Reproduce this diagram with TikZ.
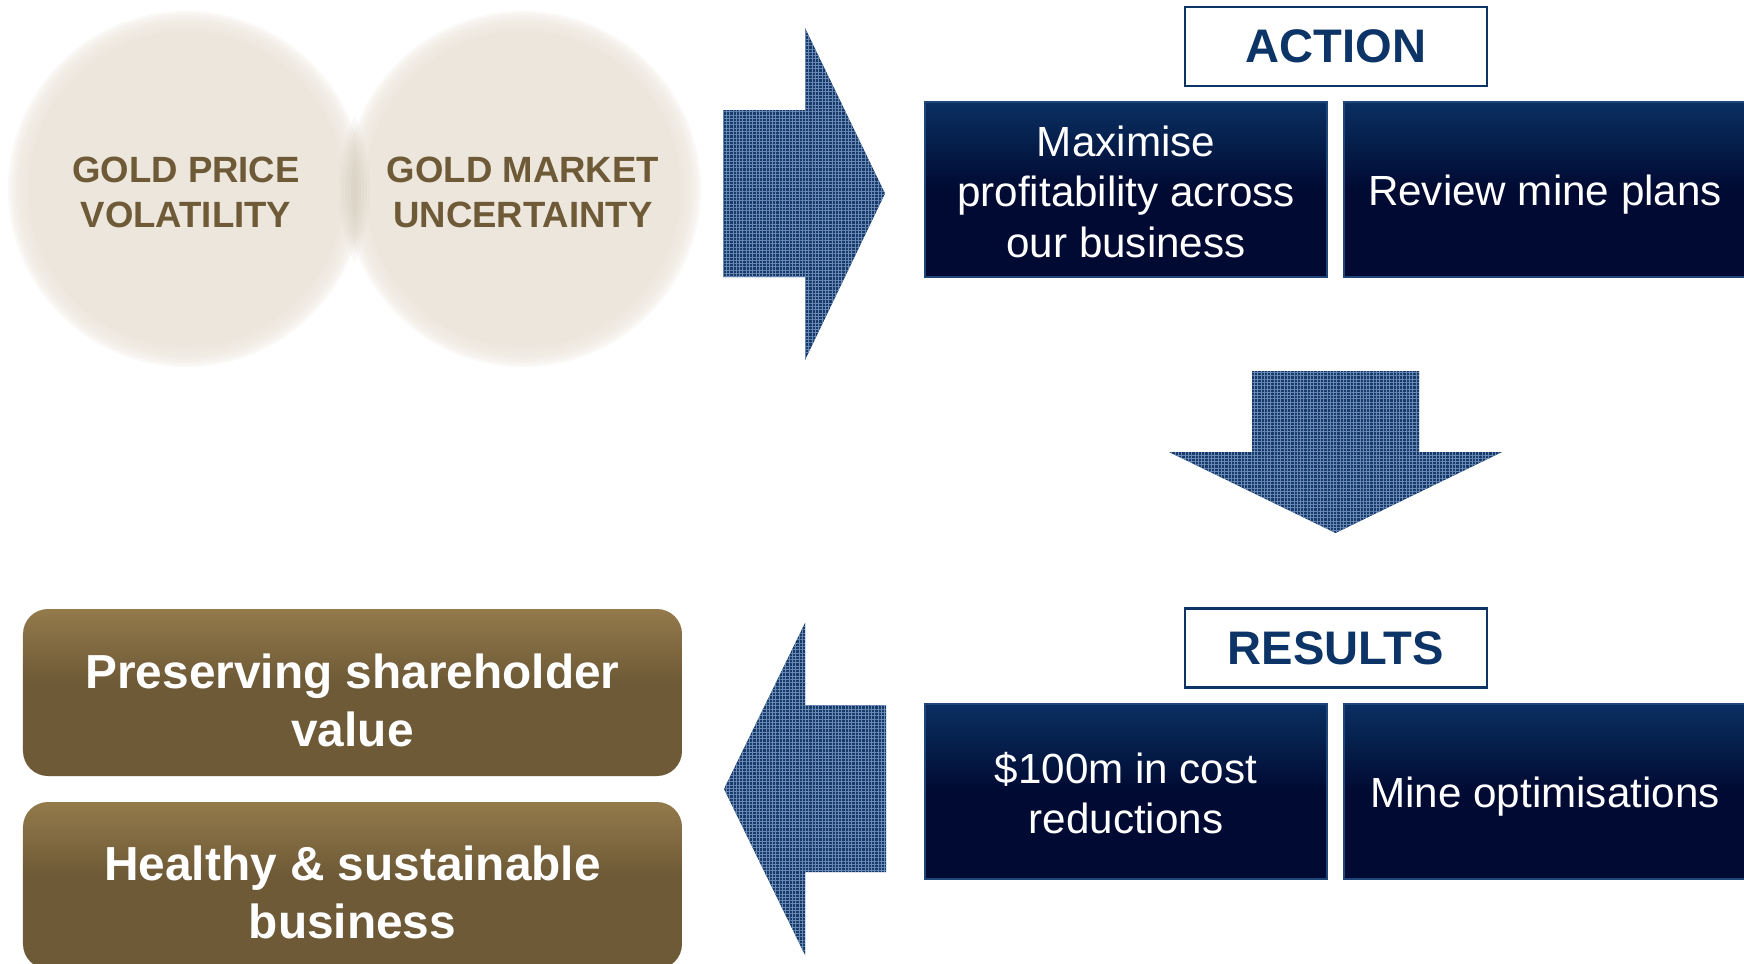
\documentclass[tikz,border=0pt]{standalone}
\usepackage{fontspec}
\setmainfont{Liberation Sans}
\usetikzlibrary{patterns.meta}

\definecolor{goldtext}{RGB}{110,90,55}
\definecolor{sand}{RGB}{236,230,220}
\definecolor{sanddark}{RGB}{200,188,168}
\definecolor{navytop}{RGB}{10,48,98}
\definecolor{navybot}{RGB}{0,10,50}
\definecolor{navyedge}{RGB}{30,70,120}
\definecolor{navytext}{RGB}{13,52,102}
\definecolor{arrowdark}{RGB}{24,58,104}
\definecolor{arrowlight}{RGB}{105,138,182}
\definecolor{goldtop}{RGB}{148,122,75}
\definecolor{goldbot}{RGB}{110,90,55}

\pgfdeclareverticalshading{navyfade}{100bp}{color(0bp)=(navybot); color(50bp)=(navybot); color(75bp)=(navytop); color(100bp)=(navytop)}
\pgfdeclareverticalshading{goldfade}{100bp}{color(0bp)=(goldbot); color(53bp)=(goldbot); color(75bp)=(goldtop); color(100bp)=(goldtop)}

\begin{document}
\begin{tikzpicture}
  \tikzstyle{bubble}=[text=goldtext, font=\bfseries\fontsize{10.4}{12.7}\selectfont, align=center, inner sep=0];
  \tikzstyle{heading}=[draw=navytext, line width=0.6pt, fill=white, minimum width=3.02cm, minimum height=0.79cm, text=navytext, font=\bfseries\fontsize{13.4}{16}\selectfont];
  \tikzstyle{task}=[draw=navyedge, line width=0.6pt, shading=navyfade, minimum width=4.02cm, minimum height=1.75cm, inner sep=0];
  \tikzstyle{tasktext}=[text=white, align=center, inner sep=0, font=\fontsize{12}{14.4}\selectfont];
  \tikzstyle{outcome}=[rounded corners=0.25cm, shading=goldfade, minimum width=6.59cm, minimum height=1.67cm, inner sep=0];
  \tikzstyle{outcometext}=[text=white, align=center, inner sep=0, font=\bfseries\fontsize{13.6}{16.5}\selectfont];
  \tikzstyle{bigarrow}=[preaction={fill=arrowdark}, pattern={Hatch[distance=0.033cm, line width=0.004cm]}, pattern color=arrowlight];

  \useasboundingbox (0,0) rectangle (17.44,9.63);

  % the two soft bubbles
  \coordinate (price) at (1.86,7.74);
  \coordinate (market) at (5.23,7.74);
  \foreach \c in {price,market} {
    \fill[sand] (\c) circle (1.58);
    \foreach \k in {1,...,8}
      \fill[sand, opacity=0.25] (\c) circle ({1.58+0.025*\k});
  }
  % darker seam where they touch
  \foreach \r in {1.66,1.69,...,1.84} {
    \begin{scope}
      \clip (price) circle (\r);
      \fill[sanddark, opacity=0.09] (market) circle (\r);
    \end{scope}
  }
  \node[bubble] (pricetxt) at ([yshift=-0.033cm]price) {GOLD PRICE\\VOLATILITY};
  \node[bubble] (markettxt) at ([yshift=-0.033cm]market) {GOLD MARKET\\UNCERTAINTY};

  % block arrows
  \path[bigarrow] (7.23,8.53) -- (8.05,8.53) -- (8.05,9.35) -- (8.85,7.695)
    -- (8.05,6.03) -- (8.05,6.86) -- (7.23,6.86) -- cycle;
  \path[bigarrow] (12.52,5.92) -- (14.19,5.92) -- (14.19,5.11) -- (15.02,5.11)
    -- (13.355,4.30) -- (11.69,5.11) -- (12.52,5.11) -- cycle;
  \path[bigarrow] (8.86,2.58) -- (8.05,2.58) -- (8.05,3.40) -- (7.24,1.74)
    -- (8.05,0.08) -- (8.05,0.91) -- (8.86,0.91) -- cycle;

  % action and results
  \node[heading] (action) at (13.36,9.165) {ACTION};
  \node[task] (maximise) at (11.26,7.735) {};
  \node[task] (review) at (15.45,7.735) {};
  \node[tasktext] (maximisetxt) at ([yshift=-0.022cm]maximise) {Maximise\\profitability across\\our business};
  \node[tasktext] (reviewtxt) at ([yshift=-0.055cm]review) {Review mine plans};

  \node[heading] (results) at (13.36,3.15) {RESULTS};
  \node[task] (savings) at (11.26,1.715) {};
  \node[task] (optimise) at (15.45,1.715) {};
  \node[tasktext] (savingstxt) at ([yshift=-0.017cm]savings) {\$100m in cost\\reductions};
  \node[tasktext] (optimisetxt) at ([yshift=-0.055cm]optimise) {Mine optimisations};

  % outcomes
  \node[outcome] (value) at (3.525,2.705) {};
  \node[outcome] (healthy) at (3.525,0.775) {};
  \node[outcometext] (valuetxt) at ([yshift=-0.078cm]value) {Preserving shareholder\\value};
  \node[outcometext] (healthytxt) at ([yshift=-0.07cm]healthy) {Healthy \& sustainable\\business};
\end{tikzpicture}
\end{document}
